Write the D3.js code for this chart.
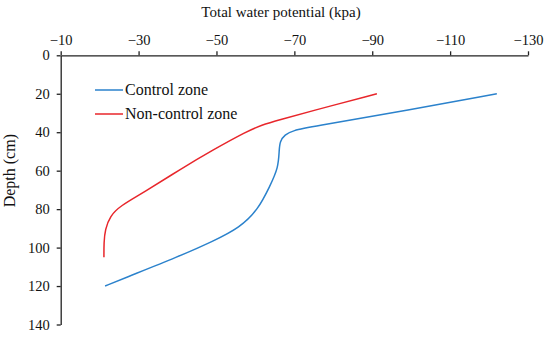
<!DOCTYPE html>
<html lang="en">
<head>
    <meta charset="UTF-8">
    <title>Total water potential vs depth</title>
    <script src="https://d3js.org/d3.v7.min.js"></script>
    <style>
        body { margin: 0; background: #fff; }
    </style>
</head>
<body>
    <svg></svg>
    <script>
        // Data (potential in kPa, depth in cm)
        const controlPotential = [-122, -97, -74, -69.7, -67.5, -66.3, -66.1, -65.9, -63.7, -60.7, -56, -49.2, -40.6, -25.7, -21.4];
        const controlDepth     = [20, 29.4, 37.3, 39.1, 41.3, 44.8, 49.1, 58.5, 68.1, 80.2, 89.6, 96.6, 104.4, 116.4, 120];
        const nonControlPotential = [-91.2, -74, -66.3, -61.5, -57.8, -49.2, -40.6, -31.2, -25.2, -22.7, -21.4, -21.1, -21.1];
        const nonControlDepth     = [20, 29.2, 33.5, 36.3, 39.6, 49.1, 59.4, 71.5, 78.4, 83.6, 90.5, 97.4, 105];
        const xTicks = [-10, -30, -50, -70, -90, -110, -130];
        const yTicks = [0, 20, 40, 60, 80, 100, 120, 140];
        const seriesNames = ["Control zone", "Non-control zone"];
        const seriesColors = ["#2b82cc", "#e8262b"];

        const FONT = "'Liberation Serif', 'DejaVu Serif', serif";
        const width = 550, height = 341;
        const svg = d3.select("svg").attr("width", width).attr("height", height)
            .style("font-family", FONT);

        const x = d3.scaleLinear().domain([-10, -130]).range([60.7, 528]);
        const y = d3.scaleLinear().domain([0, 140]).range([55.3, 324.5]);

        const fmt = d => d === 0 ? "0" : "\u2212" + Math.abs(d);

        // X axis on top
        const xAxis = svg.append("g")
            .attr("transform", `translate(0, ${y(0)})`)
            .call(d3.axisTop(x).tickValues(xTicks).tickFormat(fmt).tickSizeInner(4).tickSizeOuter(0).tickPadding(6));

        // Y axis on the left
        const yAxis = svg.append("g")
            .attr("transform", `translate(${x(-10)}, 0)`)
            .call(d3.axisLeft(y).tickValues(yTicks).tickSizeInner(4).tickSizeOuter(0).tickPadding(7));

        [xAxis, yAxis].forEach(g => {
            g.attr("font-family", FONT).attr("font-size", 14.5);
            g.select(".domain").attr("stroke", "#222").attr("stroke-width", 1.3);
            g.selectAll(".tick line").attr("stroke", "#222").attr("stroke-width", 1.3);
            g.selectAll(".tick text")
                .style("font-family", FONT)
                .style("font-size", "14.5px")
                .attr("fill", "#111");
        });

        // Axis titles
        svg.append("text")
            .attr("x", 281).attr("y", 17)
            .attr("text-anchor", "middle")
            .attr("fill", "#111")
            .style("font-family", FONT)
            .style("font-size", "15px")
            .text("Total water potential (kpa)");

        svg.append("text")
            .attr("transform", `translate(15, ${y(60)}) rotate(-90)`)
            .attr("text-anchor", "middle")
            .attr("fill", "#111")
            .style("font-family", FONT)
            .style("font-size", "16px")
            .text("Depth (cm)");

        // Curves
        const line = d3.line()
            .x(d => x(d[0]))
            .y(d => y(d[1]))
            .curve(d3.curveBasis);

        const series = [
            d3.zip(controlPotential, controlDepth),
            d3.zip(nonControlPotential, nonControlDepth)
        ];

        svg.selectAll(".curve")
            .data(series)
            .enter()
            .append("path")
            .attr("class", "curve")
            .attr("fill", "none")
            .attr("stroke", (d, i) => seriesColors[i])
            .attr("stroke-width", 1.5)
            .attr("d", line);

        // Legend
        const legend = svg.append("g").attr("transform", "translate(95, 90)");
        seriesNames.forEach((name, i) => {
            legend.append("line")
                .attr("x1", 0).attr("x2", 28)
                .attr("y1", i * 24).attr("y2", i * 24)
                .attr("stroke", seriesColors[i])
                .attr("stroke-width", 1.5);
            legend.append("text")
                .attr("x", 30).attr("y", i * 24 + 5)
                .attr("fill", "#111")
                .style("font-family", FONT)
                .style("font-size", "16px")
                .text(name);
        });
    </script>
</body>
</html>
